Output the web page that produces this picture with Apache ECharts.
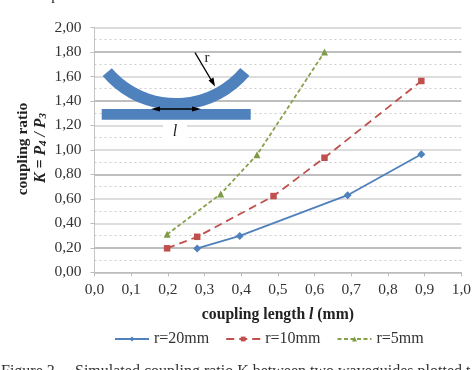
<!DOCTYPE html>
<html>
<head>
<meta charset="utf-8">
<style>
  html, body { margin: 0; padding: 0; background: #fff; }
  #chart { width: 474px; height: 370px; }
</style>
</head>
<body>
<div id="chart"></div>
<script src="https://cdn.jsdelivr.net/npm/echarts@6/dist/echarts.min.js"></script>
<script>
// coupling length (mm), coupling ratio
const r20Length = [0.28, 0.396, 0.69, 0.891];
const r20Ratio = [0.195, 0.297, 0.63, 0.964];
const r10Length = [0.198, 0.28, 0.488, 0.627, 0.891];
const r10Ratio = [0.196, 0.29, 0.623, 0.936, 1.563];
const r5Length = [0.198, 0.344, 0.443, 0.627];
const r5Ratio = [0.31, 0.64, 0.96, 1.80];

const seriesNames = ['r=20mm', 'r=10mm', 'r=5mm'];
const captionLabel = 'Figure 3.';
const captionText = 'Simulated coupling ratio K between two waveguides plotted t';

const serif = '"Liberation Serif", serif';
const textColor = '#333';

// scanned figure: some of the 0,2 gridlines came out darker, counted from 0,00
const majorLineColors = ['#bbb', '#a8a8a8', '#d2d2d2', '#d2d2d2', '#a8a8a8', '#d2d2d2', '#d2d2d2', '#a8a8a8', '#d2d2d2', '#a8a8a8', '#d2d2d2'];

function pairs(xs, ys) {
  return xs.map((x, i) => [x, ys[i]]);
}

function comma(digits) {
  return value => value.toFixed(digits).replace('.', ',');
}

const chart = echarts.init(document.getElementById('chart'), null, { renderer: 'canvas' });

chart.setOption({
  animation: false,
  backgroundColor: '#fff',
  textStyle: { fontFamily: serif },
  grid: { left: 94.5, right: 10, top: 27.5, bottom: 97.7 },
  legend: {
    left: 114,
    top: 331,
    padding: 0,
    itemWidth: 34,
    itemHeight: 6,
    itemGap: 16,
    textStyle: { fontFamily: serif, fontSize: 16, color: textColor },
    data: seriesNames
  },
  xAxis: {
    type: 'value',
    min: 0,
    max: 1,
    interval: 0.1,
    name: '{b|coupling length }{bi|l}{b| (mm)}',
    nameLocation: 'middle',
    nameGap: 35,
    nameTextStyle: {
      rich: {
        b: { fontFamily: serif, fontSize: 15.7, fontWeight: 'bold', color: '#222' },
        bi: { fontFamily: serif, fontSize: 15.7, fontWeight: 'bold', fontStyle: 'italic', color: '#222' }
      }
    },
    axisLine: { lineStyle: { color: '#bbb', width: 1 } },
    axisTick: { show: true, length: 4, lineStyle: { color: '#bbb' } },
    axisLabel: { fontFamily: serif, fontSize: 15.5, color: textColor, margin: 10, formatter: comma(1), showMinLabel: true, showMaxLabel: true },
    splitLine: { show: false }
  },
  yAxis: {
    type: 'value',
    min: 0,
    max: 2,
    interval: 0.2,
    axisLine: { show: true, lineStyle: { color: '#c4c4c4', width: 1 } },
    axisTick: { show: true, length: 4, lineStyle: { color: '#bbb' } },
    axisLabel: { fontFamily: serif, fontSize: 15.5, color: textColor, margin: 13, formatter: comma(2) },
    splitLine: { show: true, lineStyle: { color: majorLineColors, width: 1.5 } },
    minorTick: { show: false, splitNumber: 2 },
    minorSplitLine: { show: true, lineStyle: { color: '#d0cccc', type: [2, 3], width: 1 } }
  },
  series: [
    {
      name: seriesNames[0],
      type: 'line',
      z: 5,
      data: pairs(r20Length, r20Ratio),
      symbol: 'diamond',
      symbolSize: 8,
      itemStyle: { color: '#4f81bd' },
      lineStyle: { color: '#4f81bd', width: 1.8 }
    },
    {
      name: seriesNames[1],
      type: 'line',
      z: 5,
      data: pairs(r10Length, r10Ratio),
      symbol: 'rect',
      symbolSize: 6.5,
      itemStyle: { color: '#c0504d' },
      lineStyle: { color: '#c0504d', width: 1.8, type: [8, 5] }
    },
    {
      name: seriesNames[2],
      type: 'line',
      z: 5,
      data: pairs(r5Length, r5Ratio),
      symbol: 'triangle',
      symbolSize: 7,
      itemStyle: { color: '#7f9a48' },
      lineStyle: { color: '#86a04b', width: 1.8, type: [4, 2.5] }
    }
  ],
  graphic: [
    // y axis title, two rotated lines
    {
      type: 'text', x: 23, y: 149, rotation: Math.PI / 2, z: 10,
      style: { text: 'coupling ratio', font: 'bold 15.5px ' + serif, fill: '#222', align: 'center', verticalAlign: 'middle' }
    },
    {
      type: 'text', x: 41, y: 148, rotation: Math.PI / 2, z: 10,
      style: {
        text: '{k|K = P}{s|4}{k| / P}{s|3}',
        align: 'center',
        verticalAlign: 'middle',
        rich: {
          k: { font: 'italic bold 15.8px ' + serif, fill: '#222' },
          s: { font: 'italic bold 11px ' + serif, fill: '#222', verticalAlign: 'bottom' }
        }
      }
    },
    // waveguide inset
    { type: 'rect', z: 8, shape: { x: 163, y: 120, width: 24, height: 23 }, style: { fill: '#fff' } },
    { type: 'rect', z: 9, shape: { x: 101.7, y: 109, width: 149, height: 10.7 }, style: { fill: '#4f81bd' } },
    {
      type: 'arc', z: 9,
      shape: { cx: 176, cy: 14, r: 90, startAngle: 0.70, endAngle: 2.44, clockwise: true },
      style: { stroke: '#4f81bd', fill: null, lineWidth: 12, lineCap: 'butt' }
    },
    { type: 'line', z: 10, shape: { x1: 195, y1: 52.7, x2: 213, y2: 83 }, style: { stroke: '#000', lineWidth: 1.3 } },
    { type: 'polygon', z: 10, shape: { points: [[215, 86.5], [208.5, 80.5], [213.5, 77.5]] }, style: { fill: '#000' } },
    { type: 'line', z: 10, shape: { x1: 155, y1: 109, x2: 198, y2: 109 }, style: { stroke: '#000', lineWidth: 1.3 } },
    { type: 'polygon', z: 10, shape: { points: [[151, 109], [160, 106.5], [160, 111.5]] }, style: { fill: '#000' } },
    { type: 'polygon', z: 10, shape: { points: [[201, 109], [192, 106.5], [192, 111.5]] }, style: { fill: '#000' } },
    {
      type: 'text', x: 207, y: 58, z: 10,
      style: { text: 'r', font: '15px ' + serif, fill: '#222', align: 'center', verticalAlign: 'middle' }
    },
    {
      type: 'text', x: 175, y: 132, z: 10,
      style: { text: 'l', font: 'italic 16px ' + serif, fill: '#222', align: 'center', verticalAlign: 'middle' }
    },
    // cut off page text, top and bottom edge of the scan
    {
      type: 'text', x: 55, y: -11, z: 10,
      style: { text: 'p', font: '15px ' + serif, fill: '#222', align: 'center' }
    },
    {
      type: 'text', x: 1, y: 364, z: 10,
      style: { text: captionLabel, font: '16px ' + serif, fill: '#333' }
    },
    {
      type: 'text', x: 75, y: 364, z: 10,
      style: { text: captionText, font: '16px ' + serif, fill: '#333' }
    }
  ]
});
</script>
</body>
</html>
